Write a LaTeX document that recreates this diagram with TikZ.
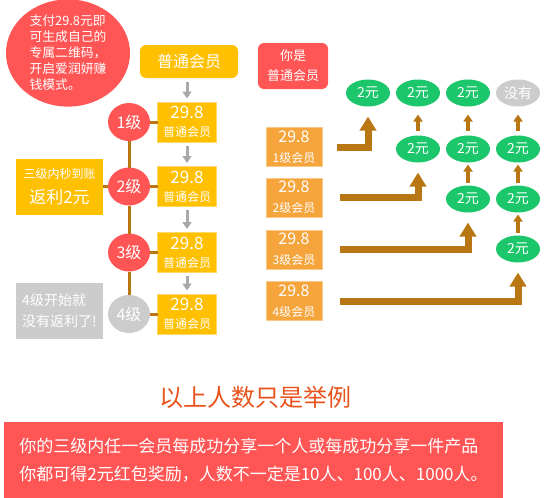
\documentclass[tikz,border=0pt]{standalone}
\usepackage{fontspec}
\setmainfont{Noto Sans CJK SC}
\usetikzlibrary{arrows.meta,shapes.geometric}
\definecolor{cred}{HTML}{FF5555}
\definecolor{cyel}{HTML}{FFC000}
\definecolor{corg}{HTML}{F5A53C}
\definecolor{cgrn}{HTML}{1CC76B}
\definecolor{cgry}{HTML}{CCCCCC}
\definecolor{cbrn}{HTML}{B97714}
\definecolor{carw}{HTML}{A8A8A8}
\definecolor{ctitle}{HTML}{E8531C}
\newcommand{\fs}[2]{\fontsize{#1}{#2}\selectfont}
\begin{document}
\begin{tikzpicture}[x=1pt,y=-1pt,
  every node/.style={inner sep=0pt, outer sep=0pt, text=white},
  ybox/.style={rectangle, fill=cyel, draw=cyel!60!white, line width=0.8pt, minimum width=59pt, minimum height=40pt, align=center, font=\fs{12}{18}},
  lvl/.style={ellipse, fill=cred, minimum width=42pt, minimum height=38pt, font=\fs{16}{16}},
  obox/.style={rectangle, fill=corg, draw=corg!60!white, line width=0.8pt, minimum width=56pt, minimum height=39pt, align=center, font=\fs{12}{20}},
  gell/.style={ellipse, fill=cgrn, minimum width=44pt, minimum height=27pt, font=\fs{14}{14}},
  link/.style={draw=cbrn, line width=3pt},
  garrow/.style={draw=carw, line width=3pt, -{Triangle[width=9pt,length=7pt]}, shorten <=3.5pt, shorten >=3.5pt},
  barrow/.style={draw=cbrn, line width=7pt, -{Triangle[width=16pt,length=14pt]}, shorten >=10pt},
  sarrow/.style={draw=cbrn, line width=3.5pt, -{Triangle[width=9pt,length=7pt]}},
]
\useasboundingbox (0,0) rectangle (549,498);

% intro bubble
\node[ellipse, fill=cred, minimum width=124pt, minimum height=100pt, align=left, font=\fs{12.8}{16}] (intro) at (68,53)
  {支付29.8元即\\可生成自己的\\专属二维码，\\开启爱润妍赚\\钱模式。};

% top box
\node[rectangle, rounded corners=6pt, fill=cyel, minimum width=98pt, minimum height=33pt, font=\fs{16}{16}] (top) at (189,61.5) {普通会员};

% member boxes
\node[ybox] (b1) at (187,122) {{\fs{17}{18}29.8}\\普通会员};
\node[ybox] (b2) at (187,186.5) {{\fs{17}{18}29.8}\\普通会员};
\node[ybox] (b3) at (187,252.5) {{\fs{17}{18}29.8}\\普通会员};
\node[ybox] (b4) at (187,314) {{\fs{17}{18}29.8}\\普通会员};

% level circles
\node[lvl] (c1) at (129,122) {1级};
\node[lvl] (c2) at (129,186.5) {2级};
\node[lvl] (c3) at (129,252.5) {3级};
\node[lvl, fill=cgry] (c4) at (129,314) {4级};

% side boxes
\node[rectangle, fill=cyel, minimum width=87pt, minimum height=56pt, align=center, font=\fs{12}{25}] (side) at (59.5,187)
  {三级内秒到账\\{\fs{17}{25}返利2元}};
\node[rectangle, fill=cgry, minimum width=87pt, minimum height=56pt, align=left, font=\fs{14}{21}] (nob) at (59.5,311)
  {4级开始就\\没有返利了!};

% connectors left
\draw[link] (c1) -- (c2);
\draw[link] (c2) -- (c3);
\draw[link] (c3) -- (c4);
\draw[link] (c1) -- (b1);
\draw[link] (c2) -- (b2);
\draw[link] (c3) -- (b3);
\draw[link] (c4) -- (b4);
\draw[link] (side) -- (c2);

% gray arrows
\draw[garrow] (top.south -| b1.north) -- (b1.north);
\draw[garrow] (b1) -- (b2);
\draw[garrow] (b2) -- (b3);
\draw[garrow] (b3) -- (b4);

% right part
\node[rectangle, rounded corners=6pt, fill=cred, minimum width=70pt, minimum height=46pt, align=center, font=\fs{13}{20}] (you) at (293,66) {你是\\普通会员};

\node[obox] (ob1) at (294,147) {{\fs{16}{20}29.8}\\1级会员};
\node[obox] (ob2) at (294,197.5) {{\fs{16}{20}29.8}\\2级会员};
\node[obox] (ob3) at (294,249.5) {{\fs{16}{20}29.8}\\3级会员};
\node[obox] (ob4) at (294,301) {{\fs{16}{20}29.8}\\4级会员};

\node[gell] (e11) at (368,93) {2元};
\node[gell] (e12) at (418,93) {2元};
\node[gell] (e13) at (468,93) {2元};
\node[gell, fill=cgry] (e14) at (518,93) {没有};
\node[gell] (e22) at (418,149) {2元};
\node[gell] (e23) at (468,149) {2元};
\node[gell] (e24) at (518,149) {2元};
\node[gell] (e33) at (468,199) {2元};
\node[gell] (e34) at (518,199) {2元};
\node[gell] (e44) at (518,249) {2元};

\draw[sarrow, shorten <=5pt, shorten >=8pt] (e22) -- (e12);
\draw[sarrow, shorten <=5pt, shorten >=8pt] (e23) -- (e13);
\draw[sarrow, shorten <=5pt, shorten >=8pt] (e24) -- (e14);
\draw[sarrow, shorten <=3pt, shorten >=2pt] (e33) -- (e23);
\draw[sarrow, shorten <=3pt, shorten >=2pt] (e34) -- (e24);
\draw[sarrow, shorten <=3pt, shorten >=2pt] (e44) -- (e34);

\draw[barrow] ([xshift=15pt]ob1.east) -| (e11.south);
\draw[barrow] ([xshift=18pt]ob2.east) -| (e22.south);
\draw[barrow] ([xshift=18pt]ob3.east) -| (e33.south);
\draw[barrow] ([xshift=18pt]ob4.east) -| (e44.south);

% bottom
\node[text=ctitle, font=\fs{24}{24}] (title) at (255,397) {以上人数只是举例};
\node[rectangle, fill=cred, minimum width=499pt, minimum height=76pt, align=left, font=\fs{17}{28}] (note) at (253.5,460)
  {你的三级内任一会员每成功分享一个人或每成功分享一件产品\\你都可得2元红包奖励，人数不一定是10人、100人、1000人。};
\end{tikzpicture}
\end{document}
